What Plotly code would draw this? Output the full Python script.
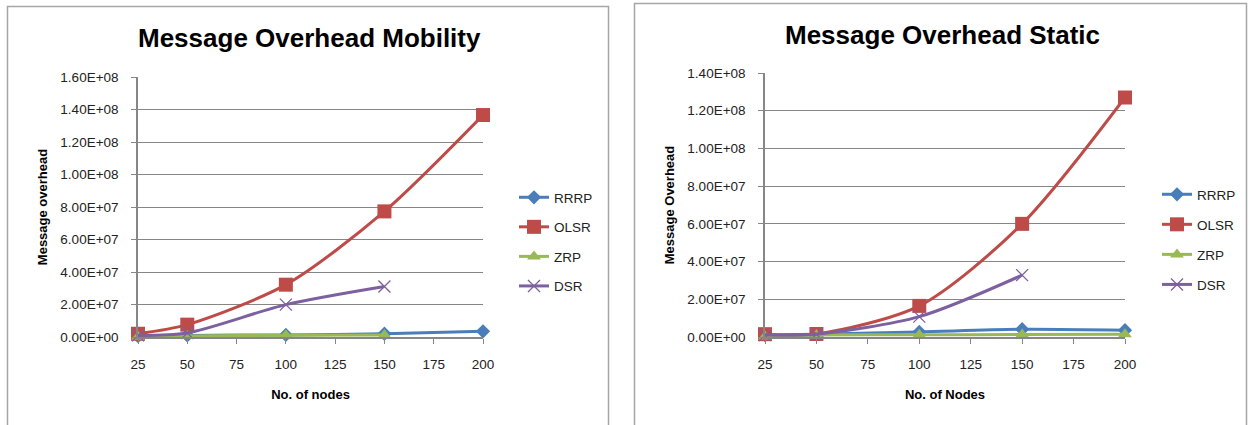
import plotly.graph_objects as go

# ---------------- data ----------------
nodes = [25, 50, 100, 150, 200]
nodes_short = [25, 50, 100, 150]

# Mobility chart
mob_rrrp = [0.5e6, 1.0e6, 1.3e6, 2.0e6, 3.5e6]
mob_olsr = [2.0e6, 7.6e6, 3.22e7, 7.73e7, 1.366e8]
mob_zrp = [0.2e6, 0.6e6, 1.1e6, 1.3e6]
mob_dsr = [1.0e6, 2.5e6, 1.99e7, 3.11e7]

# Static chart
sta_rrrp = [1.0e6, 1.5e6, 2.7e6, 4.1e6, 3.6e6]
sta_olsr = [1.5e6, 1.6e6, 1.65e7, 6.0e7, 1.27e8]
sta_zrp = [0.3e6, 1.0e6, 1.2e6, 1.3e6, 1.5e6]
sta_dsr = [1.0e6, 1.5e6, 1.08e7, 3.28e7]

x_ticks = [25, 50, 75, 100, 125, 150, 175, 200]
mob_yticks = [0, 2e7, 4e7, 6e7, 8e7, 1e8, 1.2e8, 1.4e8, 1.6e8]
mob_ylabels = ["0.00E+00", "2.00E+07", "4.00E+07", "6.00E+07", "8.00E+07",
               "1.00E+08", "1.20E+08", "1.40E+08", "1.60E+08"]
sta_yticks = [0, 2e7, 4e7, 6e7, 8e7, 1e8, 1.2e8, 1.4e8]
sta_ylabels = ["0.00E+00", "2.00E+07", "4.00E+07", "6.00E+07", "8.00E+07",
               "1.00E+08", "1.20E+08", "1.40E+08"]

series_names = ["RRRP", "OLSR", "ZRP", "DSR"]
colors = {"RRRP": "#4A7EBB", "OLSR": "#BE4B48", "ZRP": "#98B954", "DSR": "#7D60A0"}
symbols = {"RRRP": "diamond", "OLSR": "square", "ZRP": "triangle-up", "DSR": "x-thin"}
msizes = {"RRRP": 11, "OLSR": 14, "ZRP": 12, "DSR": 12}

FONT = "Liberation Sans"
W, H = 1249, 425


def px(X):
    return X / W


def py(Y):
    return 1 - Y / H


fig = go.Figure()

mob = {"RRRP": (nodes, mob_rrrp), "OLSR": (nodes, mob_olsr),
       "ZRP": (nodes_short, mob_zrp), "DSR": (nodes_short, mob_dsr)}
sta = {"RRRP": (nodes, sta_rrrp), "OLSR": (nodes, sta_olsr),
       "ZRP": (nodes, sta_zrp), "DSR": (nodes_short, sta_dsr)}


def add_series(data, xa, ya, legend, prefix):
    for name in series_names:
        xs, ys = data[name]
        marker = dict(symbol=symbols[name], size=msizes[name], color=colors[name])
        if name == "DSR":
            marker["line"] = dict(color=colors[name], width=1.3)
        fig.add_trace(go.Scatter(
            x=xs, y=ys, name=name, mode="lines+markers",
            line=dict(color=colors[name], width=3, shape="spline", smoothing=0.8),
            marker=marker, xaxis=xa, yaxis=ya, legend=legend,
            legendgroup=prefix + name, cliponaxis=False,
        ))


add_series(mob, "x", "y", "legend", "m")
add_series(sta, "x2", "y2", "legend2", "s")

grid = "#868686"
tickfont = dict(family=FONT, size=13.5, color="#222222")
titlefont = dict(family=FONT, size=13, color="#000000", weight="bold")

common_x = dict(tickmode="array", tickvals=x_ticks, ticktext=[str(v) for v in x_ticks],
                showgrid=False, showline=True, linecolor=grid, linewidth=1.5,
                ticks="outside", ticklen=5, tickcolor=grid, tickfont=tickfont,
                zeroline=False, ticklabelstandoff=9, automargin=False)
common_y = dict(showgrid=True, gridcolor=grid, gridwidth=1.2, showline=True,
                linecolor=grid, linewidth=1.5, ticks="outside", ticklen=5,
                tickcolor=grid, tickfont=tickfont, zeroline=False,
                ticklabelstandoff=10, automargin=False)

fig.update_layout(
    template="none",
    width=W, height=H, margin=dict(l=0, r=0, t=0, b=0, pad=0), autosize=False,
    paper_bgcolor="white", plot_bgcolor="white",
    xaxis=dict(domain=[px(138), px(483)], range=[25, 200], anchor="y",
               title=dict(text="No. of nodes", font=titlefont, standoff=19), **common_x),
    yaxis=dict(domain=[py(337), py(77)], range=[0, 1.6e8], anchor="x",
               tickmode="array", tickvals=mob_yticks, ticktext=mob_ylabels,
               title=dict(text="Message overhead", font=titlefont, standoff=10), **common_y),
    xaxis2=dict(domain=[px(765), px(1125)], range=[25, 200], anchor="y2",
                title=dict(text="No. of Nodes", font=titlefont, standoff=19), **common_x),
    yaxis2=dict(domain=[py(337), py(73)], range=[0, 1.4e8], anchor="x2",
                tickmode="array", tickvals=sta_yticks, ticktext=sta_ylabels,
                title=dict(text="Message Overhead", font=titlefont, standoff=10), **common_y),
    legend=dict(x=px(514), y=py(182), xanchor="left", yanchor="top",
                font=dict(family=FONT, size=13.5, color="#222222"),
                tracegroupgap=9, bgcolor="rgba(0,0,0,0)", borderwidth=0),
    legend2=dict(x=px(1157), y=py(179), xanchor="left", yanchor="top",
                 font=dict(family=FONT, size=13.5, color="#222222"),
                 tracegroupgap=9.5, bgcolor="rgba(0,0,0,0)", borderwidth=0),
    annotations=[
        dict(text="<b>Message Overhead Mobility</b>", x=px(309), y=py(38),
             xref="paper", yref="paper", showarrow=False, xanchor="center", yanchor="middle",
             font=dict(family=FONT, size=26, color="#000000")),
        dict(text="<b>Message Overhead Static</b>", x=px(943), y=py(35),
             xref="paper", yref="paper", showarrow=False, xanchor="center", yanchor="middle",
             font=dict(family=FONT, size=26, color="#000000")),
    ],
    shapes=[
        dict(type="rect", xref="paper", yref="paper", x0=px(7.5), x1=px(608.5),
             y0=-0.1, y1=py(6.5), line=dict(color="#A6A6A6", width=1.5)),
        dict(type="rect", xref="paper", yref="paper", x0=px(634.5), x1=px(1246.5),
             y0=-0.1, y1=py(3.5), line=dict(color="#A6A6A6", width=1.5)),
    ],
)

fig.write_html(
    "out.html",
    post_script="document.body.style.margin='0';document.body.style.overflow='hidden';",
    config={"displayModeBar": False},
)
